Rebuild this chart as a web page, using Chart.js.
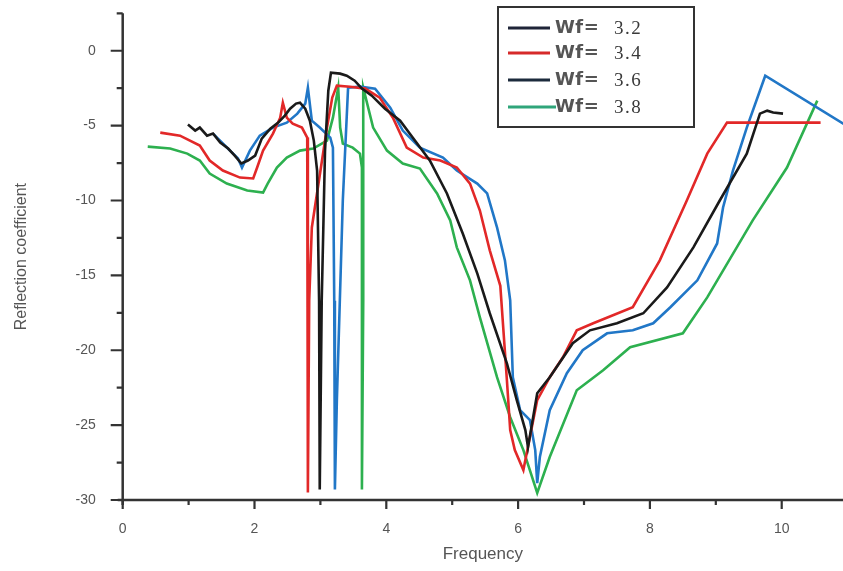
<!DOCTYPE html>
<html>
<head>
<meta charset="utf-8">
<title>Reflection coefficient vs Frequency</title>
<script src="https://cdn.jsdelivr.net/npm/chart.js@4/dist/chart.umd.min.js"></script>
<style>
  html, body { margin: 0; padding: 0; background: #fff; }
  #wrap { width: 843px; height: 571px; position: relative; }
</style>
</head>
<body>
<div id="wrap"><canvas id="chart"></canvas></div>
<script>
// ---- data ----
const xTicks = [0, 2, 4, 6, 8, 10];
const yTicks = [-30, -25, -20, -15, -10, -5, 0];
const seriesNames = ['Wf= 3.2', 'Wf= 3.4', 'Wf= 3.6', 'Wf= 3.8'];

const wf32X = [0.99, 1.10, 1.17, 1.28, 1.37, 1.48, 1.60, 1.70, 1.80, 1.90, 2.01, 2.11, 2.24, 2.36, 2.46, 2.54, 2.63, 2.69, 2.77, 2.84, 2.90, 2.95, 2.98, 2.99, 3.02, 3.07, 3.12, 3.16, 3.30, 3.40, 3.52, 3.63, 3.78, 3.98, 4.21, 4.40, 4.66, 4.92, 5.16, 5.38, 5.57, 5.83, 5.98, 6.11, 6.15, 6.29, 6.48, 6.83, 7.09, 7.50, 7.90, 8.26, 8.66, 9.06, 9.47, 9.67, 9.78, 9.87, 10.02];
const wf32Y = [-4.93, -5.33, -5.13, -5.67, -5.53, -6.13, -6.53, -7.0, -7.53, -7.33, -7.0, -5.87, -5.2, -4.8, -4.33, -3.87, -3.53, -3.47, -3.87, -4.67, -6.0, -8.0, -16.7, -29.3, -16.7, -6.67, -2.67, -1.47, -1.53, -1.67, -2.0, -2.53, -3.0, -3.87, -4.67, -5.8, -7.33, -9.53, -12.2, -14.87, -17.53, -20.87, -23.33, -25.33, -26.47, -22.87, -21.8, -19.53, -18.67, -18.2, -17.53, -15.8, -13.13, -10.0, -6.87, -4.2, -4.0, -4.13, -4.2];

const wf34X = [0.57, 0.87, 1.17, 1.32, 1.52, 1.78, 1.98, 2.04, 2.13, 2.28, 2.39, 2.43, 2.49, 2.58, 2.72, 2.80, 2.81, 2.81, 2.83, 2.87, 3.10, 3.18, 3.25, 3.45, 3.68, 3.90, 4.10, 4.31, 4.56, 4.82, 5.07, 5.27, 5.42, 5.57, 5.73, 5.83, 5.88, 5.95, 6.08, 6.29, 6.48, 6.68, 6.89, 7.14, 7.74, 8.15, 8.56, 8.87, 9.17, 10.59];
const wf34Y = [-5.47, -5.67, -6.33, -7.33, -8.0, -8.47, -8.53, -7.8, -6.67, -5.53, -4.47, -3.47, -4.47, -4.87, -5.13, -5.8, -7.33, -29.5, -16.7, -11.8, -5.13, -3.13, -2.33, -2.4, -2.53, -3.13, -4.47, -6.47, -7.13, -7.33, -7.8, -8.87, -10.67, -13.33, -15.7, -22.0, -25.33, -26.67, -28.0, -23.33, -21.8, -20.47, -18.67, -18.2, -17.13, -14.0, -10.0, -6.87, -4.8, -4.8];

const wf36X = [1.37, 1.55, 1.66, 1.75, 1.81, 1.93, 2.08, 2.28, 2.49, 2.65, 2.77, 2.81, 2.87, 2.99, 3.15, 3.19, 3.21, 3.22, 3.25, 3.34, 3.42, 3.60, 3.83, 4.06, 4.25, 4.51, 4.86, 5.07, 5.38, 5.53, 5.68, 5.80, 5.88, 5.92, 6.03, 6.18, 6.26, 6.29, 6.33, 6.48, 6.74, 6.98, 7.35, 7.74, 8.05, 8.31, 8.72, 9.02, 9.11, 9.26, 9.47, 9.75, 11.0];
const wf36Y = [-5.53, -6.33, -6.8, -7.2, -7.8, -6.67, -5.67, -5.13, -4.8, -4.2, -3.53, -2.47, -4.67, -5.13, -5.8, -6.47, -16.7, -29.3, -23.3, -10.0, -2.47, -2.4, -2.53, -3.8, -5.33, -6.47, -7.13, -8.0, -8.87, -9.53, -11.8, -14.0, -16.67, -21.8, -24.0, -24.67, -26.67, -28.87, -27.13, -24.0, -21.53, -20.0, -18.87, -18.67, -18.2, -17.13, -15.33, -12.87, -10.47, -8.0, -5.13, -1.67, -5.05];

const wf38X = [0.38, 0.72, 0.98, 1.17, 1.32, 1.58, 1.89, 2.13, 2.20, 2.34, 2.49, 2.69, 2.89, 3.10, 3.19, 3.27, 3.30, 3.34, 3.49, 3.60, 3.63, 3.63, 3.65, 3.65, 3.80, 4.01, 4.25, 4.51, 4.77, 4.97, 5.07, 5.27, 5.42, 5.68, 5.88, 6.08, 6.29, 6.48, 6.89, 7.29, 7.70, 8.50, 8.87, 9.56, 10.08, 10.54];
const wf38Y = [-6.4, -6.53, -6.87, -7.33, -8.2, -8.87, -9.33, -9.47, -8.87, -7.8, -7.13, -6.67, -6.53, -6.0, -4.47, -2.47, -5.13, -6.2, -6.47, -6.87, -7.8, -29.3, -16.7, -2.47, -5.13, -6.67, -7.53, -7.87, -9.53, -11.33, -13.13, -15.33, -17.8, -21.8, -24.47, -26.67, -29.53, -27.13, -22.67, -21.33, -19.8, -18.87, -16.47, -11.33, -7.8, -3.33];

const lineColors = ['#1a1a1a', '#e22828', '#2177c7', '#2db04f'];
const legendColors = ['#1f2538', '#d62a2a', '#1c2b3c', '#2fa57a'];

function toPoints(xs, ys) {
    return xs.map((x, i) => ({ x: x, y: ys[i] }));
}

// axes, ticks and boxed legend drawn like the original plot
const axisPlugin = {
    id: 'originAxes',
    afterDraw(chart) {
        const { ctx, chartArea } = chart;
        const xs = chart.scales.x, ys = chart.scales.y;
        const left = chartArea.left, bottom = chartArea.bottom;
        ctx.save();
        ctx.strokeStyle = '#333';
        ctx.lineWidth = 2.5;
        ctx.beginPath();
        ctx.moveTo(left, chartArea.top);
        ctx.lineTo(left, bottom + 5);
        ctx.moveTo(left - 5, bottom);
        ctx.lineTo(chart.width, bottom);
        ctx.stroke();

        ctx.lineWidth = 2.2;
        ctx.beginPath();
        for (let v = -30; v <= 2.5; v += 2.5) {
            const py = ys.getPixelForValue(v);
            const len = (v % 5 === 0) ? 12 : 6;
            ctx.moveTo(left, py);
            ctx.lineTo(left - len, py);
        }
        for (let v = 0; v <= 10; v += 1) {
            const px = xs.getPixelForValue(v);
            const len = (v % 2 === 0) ? 9 : 5;
            ctx.moveTo(px, bottom);
            ctx.lineTo(px, bottom + len);
        }
        ctx.stroke();

        // legend box
        const bx = 498, by = 7, bw = 196, bh = 120;
        ctx.fillStyle = '#fff';
        ctx.fillRect(bx, by, bw, bh);
        ctx.strokeStyle = '#333';
        ctx.lineWidth = 2;
        ctx.strokeRect(bx, by, bw, bh);
        const rows = [28, 53, 80, 107];
        seriesNames.forEach((name, i) => {
            const ry = rows[i];
            ctx.strokeStyle = legendColors[i];
            ctx.lineWidth = 3;
            ctx.beginPath();
            ctx.moveTo(508, ry);
            ctx.lineTo(i === 3 ? 556 : 550, ry);
            ctx.stroke();
            const parts = name.split(' ');
            ctx.textBaseline = 'middle';
            ctx.fillStyle = '#555';
            ctx.letterSpacing = '0.5px';
            ctx.font = 'bold 18px "DejaVu Sans", Verdana, sans-serif';
            ctx.fillText(parts[0], 555, ry);
            ctx.fillStyle = '#3a3a3a';
            ctx.letterSpacing = '1.5px';
            ctx.font = '19px "Liberation Serif", "DejaVu Serif", serif';
            ctx.fillText(parts[1], 614, ry + 1);
        });
        ctx.letterSpacing = '0px';
        ctx.restore();
    }
};

const datasets = [
    [wf32X, wf32Y], [wf34X, wf34Y], [wf36X, wf36Y], [wf38X, wf38Y]
].map((d, i) => ({
    label: seriesNames[i],
    data: toPoints(d[0], d[1]),
    showLine: true,
    borderColor: lineColors[i],
    backgroundColor: lineColors[i],
    borderWidth: 2.6,
    pointRadius: 0,
    tension: 0
}));

const tickFont = { family: '"Liberation Sans", Arial, sans-serif', size: 14 };

new Chart(document.getElementById('chart'), {
    type: 'scatter',
    data: { datasets },
    options: {
        responsive: true,
        maintainAspectRatio: false,
        animation: false,
        layout: { padding: { top: 13.3, right: 0, left: 0, bottom: 0 } },
        plugins: {
            legend: { display: false },
            tooltip: { enabled: false }
        },
        scales: {
            x: {
                type: 'linear',
                min: 0,
                max: 10.93,
                grid: { display: false },
                border: { display: false },
                afterBuildTicks: (s) => { s.ticks = xTicks.map(v => ({ value: v })); },
                afterFit: (s) => { s.height = 71; s.paddingLeft = 0; s.paddingRight = 0; },
                ticks: { color: '#555', font: tickFont, padding: 13, maxRotation: 0 },
                title: {
                    display: true,
                    text: 'Frequency',
                    color: '#555',
                    font: { family: '"Liberation Sans", Arial, sans-serif', size: 17 },
                    padding: { top: 0, bottom: 6 }
                }
            },
            y: {
                type: 'linear',
                min: -30,
                max: 2.5,
                grid: { display: false },
                border: { display: false },
                afterBuildTicks: (s) => { s.ticks = yTicks.map(v => ({ value: v })); },
                afterFit: (s) => { s.width = 122.7; s.paddingTop = 0; s.paddingBottom = 0; },
                ticks: { color: '#555', font: tickFont, padding: 19 },
                title: {
                    display: true,
                    text: 'Reflection coefficient',
                    color: '#555',
                    font: { family: '"Liberation Sans", Arial, sans-serif', size: 16 },
                    padding: { top: 12, bottom: 0 }
                }
            }
        }
    },
    plugins: [axisPlugin]
});
</script>
</body>
</html>
